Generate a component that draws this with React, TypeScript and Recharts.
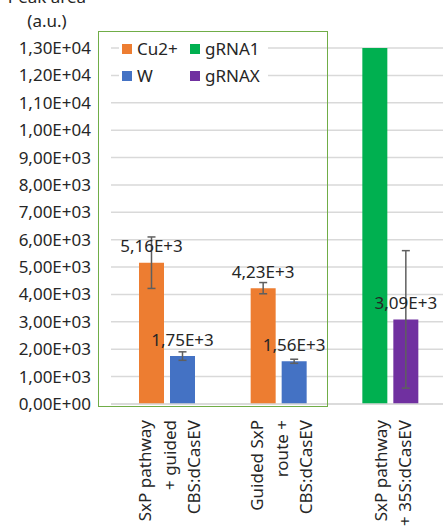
import React from 'react';
import { BarChart, Bar, XAxis, YAxis, CartesianGrid, ErrorBar, LabelList, Legend } from 'recharts';

const categories = ['SxP pathway\n+ guided\nCBS:dCasEV', 'Guided SxP\nroute +\nCBS:dCasEV', 'SxP pathway\n+ 35S:dCasEV'];
const cu2 = [5160, 4230, 0];
const cu2Err = [940, 205, 0];
const w = [1750, 1560, 0];
const wErr = [155, 75, 0];
const grna1 = [0, 0, 13000];
const grnax = [0, 0, 3090];
const grnaxErr = [0, 0, 2510];
const yTicks = [0, 1000, 2000, 3000, 4000, 5000, 6000, 7000, 8000, 9000, 10000, 11000, 12000, 13000];

const data = categories.map((name, i) => ({
  name,
  cu2: cu2[i],
  cu2Err: cu2Err[i],
  w: w[i],
  wErr: wErr[i],
  grna1: grna1[i],
  grnax: grnax[i],
  grnaxErr: grnaxErr[i],
}));

const FONT = '"Noto Sans", sans-serif';
const TEXT = '#262626';

// excel-style scientific: 5,16E+3 / 1,30E+04
const sci = (v: number, pad: boolean) => {
  const [m, e] = v.toExponential(2).split('e');
  const exp = parseInt(e, 10);
  const abs = String(Math.abs(exp));
  return m.replace('.', ',') + 'E' + (exp < 0 ? '-' : '+') + (pad ? abs.padStart(2, '0') : abs);
};

const ValueLabel = (props: any) => {
  const { x, y, width, value } = props;
  if (!value) return null;
  return (
    <text x={x + width / 2} y={y - 17} textAnchor="middle" dominantBaseline="central"
      fontFamily={FONT} fontSize={17} fill={TEXT}>
      {sci(value, false)}
    </text>
  );
};

const CategoryTick = (props: any) => {
  const { x, y, payload } = props;
  const lines: string[] = String(payload.value).split('\n');
  return (
    <g>
      {lines.map((line, i) => {
        const cx = x + (i - (lines.length - 1) / 2) * 24.5 + 2.5;
        return (
          <text key={i} transform={`translate(${cx},${y + 8}) rotate(-90)`} textAnchor="end"
            dominantBaseline="central" fontFamily={FONT} fontSize={17} fill={TEXT}>
            {line}
          </text>
        );
      })}
    </g>
  );
};

const legendItems = [
  { label: 'Cu2+', color: '#ED7D31' },
  { label: 'W', color: '#4472C4' },
  { label: 'gRNA1', color: '#00B050' },
  { label: 'gRNAX', color: '#7030A0' },
];

const LegendBox = () => (
  <div style={{
    display: 'grid', gridTemplateRows: '27px 27px', gridTemplateColumns: '68px 78px',
    gridAutoFlow: 'column', background: '#fff', padding: '0 0 0 3px',
  }}>
    {legendItems.map((it) => (
      <div key={it.label} style={{ display: 'flex', alignItems: 'center', fontFamily: FONT, fontSize: 17, color: TEXT }}>
        <span style={{ width: 10, height: 10, background: it.color, marginRight: 5, display: 'inline-block' }} />
        {it.label}
      </div>
    ))}
  </div>
);

export default function App() {
  return (
    <div style={{ position: 'absolute', left: 0, top: 0, width: 443, height: 527, overflow: 'hidden', background: '#fff' }}>
      <div style={{
        position: 'absolute', left: -3, top: -15, width: 100, textAlign: 'center',
        fontFamily: FONT, fontSize: 17, lineHeight: '24px', color: TEXT,
      }}>
        Peak area<br />(a.u.)
      </div>
      <BarChart width={446} height={527} data={data} margin={{ top: 48, right: 0, left: 0, bottom: 0 }}
        barSize={25} barGap={6}>
        <CartesianGrid vertical={false} stroke="#D9D9D9" strokeWidth={1.5} />
        <XAxis dataKey="name" height={123} interval={0} tick={<CategoryTick />}
          axisLine={{ stroke: '#D9D9D9', strokeWidth: 1.5 }} tickLine={false} />
        <YAxis width={111} domain={[0, 13000]} ticks={yTicks} interval={0} tickFormatter={(v: number) => sci(v, true)}
          axisLine={false} tickLine={false} tickSize={0} tickMargin={20}
          tick={{ fontFamily: FONT, fontSize: 17, fill: TEXT }} />
        <Legend layout="vertical" align="center" verticalAlign="middle" content={<LegendBox />}
          wrapperStyle={{ position: 'absolute', left: 119, top: 35, width: 149, height: 54 }} />
        <Bar dataKey="cu2" name="Cu2+" stackId="a" fill="#ED7D31" isAnimationActive={false}>
          <ErrorBar dataKey="cu2Err" width={4} stroke="#5F5F5F" strokeWidth={1.5} />
          <LabelList dataKey="cu2" content={<ValueLabel />} />
        </Bar>
        <Bar dataKey="w" name="W" stackId="b" fill="#4472C4" isAnimationActive={false}>
          <ErrorBar dataKey="wErr" width={4} stroke="#5F5F5F" strokeWidth={1.5} />
          <LabelList dataKey="w" content={<ValueLabel />} />
        </Bar>
        <Bar dataKey="grna1" name="gRNA1" stackId="a" fill="#00B050" isAnimationActive={false} />
        <Bar dataKey="grnax" name="gRNAX" stackId="b" fill="#7030A0" isAnimationActive={false}>
          <ErrorBar dataKey="grnaxErr" width={4} stroke="#5F5F5F" strokeWidth={1.5} />
          <LabelList dataKey="grnax" content={<ValueLabel />} />
        </Bar>
      </BarChart>
      <div style={{
        position: 'absolute', left: 98, top: 31, width: 230, height: 376,
        border: '1.5px solid #70AD47', boxSizing: 'border-box', pointerEvents: 'none',
      }} />
    </div>
  );
}
